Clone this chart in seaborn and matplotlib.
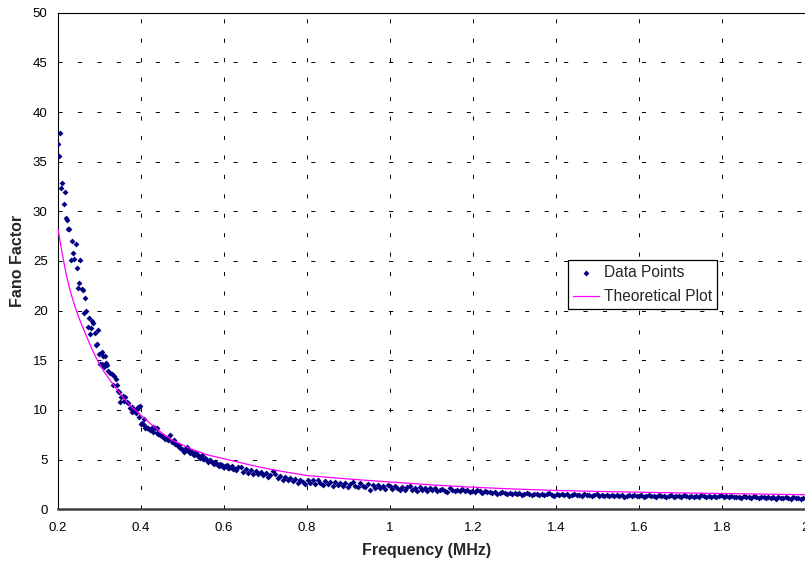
import numpy as np
import matplotlib
matplotlib.use('Agg')
import matplotlib.pyplot as plt
import seaborn as sns

sns.set_style('white')
plt.rcParams['font.family'] = ['Liberation Sans', 'DejaVu Sans']
plt.rcParams['lines.scale_dashes'] = False

# 测量数据 - 低频段 (点比较分散)
freq_low = [0.2000, 0.2017, 0.2048, 0.2072, 0.2104, 0.2137, 0.2161, 0.2186, 0.2217, 0.2248,
            0.2272, 0.2306, 0.2330, 0.2369, 0.2393, 0.2427, 0.2451, 0.2489, 0.2506, 0.2530,
            0.2571, 0.2595, 0.2627, 0.2651, 0.2682, 0.2716, 0.2740, 0.2771, 0.2788, 0.2820,
            0.2844, 0.2884, 0.2909, 0.2933, 0.2964, 0.2995, 0.3012, 0.3053, 0.3068, 0.3085,
            0.3110, 0.3140, 0.3150, 0.3188, 0.3210, 0.3250, 0.3294, 0.3318, 0.3357, 0.3400,
            0.3414, 0.3454, 0.3470, 0.3494, 0.3518, 0.3574, 0.3590, 0.3615, 0.3655, 0.3694,
            0.3735, 0.3776, 0.3790, 0.3815, 0.3856, 0.3870, 0.3897, 0.3935, 0.3950, 0.3976,
            0.4000, 0.4017, 0.4072, 0.4080, 0.4097, 0.4137, 0.4176, 0.4217, 0.4258, 0.4282,
            0.4297, 0.4338, 0.4378, 0.4393, 0.4420, 0.4458, 0.4500, 0.4538, 0.4580, 0.4620,
            0.4659, 0.4700, 0.4740, 0.4770, 0.4796, 0.4830, 0.4860, 0.4890, 0.4924, 0.4950,
            0.4981, 0.5010, 0.5037, 0.5070, 0.5100, 0.5130, 0.5164, 0.5190, 0.5222, 0.5250,
            0.5278, 0.5310, 0.5343, 0.5370, 0.5405, 0.5430, 0.5463, 0.5490, 0.5520, 0.5550,
            0.5584, 0.5610, 0.5646, 0.5670, 0.5704, 0.5730, 0.5760, 0.5790, 0.5825, 0.5850,
            0.5887, 0.5910, 0.5945, 0.5970, 0.6000, 0.6030, 0.6066, 0.6100, 0.6128, 0.6160,
            0.6186, 0.6220, 0.6266, 0.6300, 0.6345]
fano_low = [36.8, 35.6, 37.9, 32.4, 32.9, 30.7, 31.9, 29.3, 29.1, 28.2,
            28.2, 25.1, 27.0, 25.8, 25.2, 26.7, 24.3, 22.3, 22.8, 25.1,
            22.2, 22.1, 19.8, 21.3, 20.0, 18.4, 19.3, 17.7, 18.3, 19.0,
            18.8, 17.8, 16.5, 16.6, 18.1, 15.6, 14.6, 15.8, 14.6, 15.4,
            14.3, 15.4, 14.7, 14.5, 13.9, 13.7, 13.6, 12.5, 13.4, 13.1,
            12.5, 11.9, 11.8, 10.8, 11.3, 11.4, 10.9, 11.3, 10.8, 10.7,
            10.2, 10.3, 9.8, 10.1, 10.0, 9.7, 10.1, 10.3, 9.3, 10.4,
            8.6, 8.7, 8.5, 9.1, 8.2, 8.2, 8.2, 8.0, 8.2, 8.3,
            7.8, 8.2, 7.7, 8.2, 7.6, 7.5, 7.4, 7.3, 7.1, 7.2,
            7.0, 7.5, 6.8, 6.9, 7.0, 6.6, 6.6, 6.4, 6.5, 6.2,
            6.1, 6.0, 5.8, 6.1, 6.3, 5.9, 6.0, 5.7, 5.8, 5.6,
            5.5, 5.7, 5.6, 5.4, 5.3, 5.2, 5.5, 5.1, 5.1, 5.2,
            5.0, 4.8, 4.9, 5.0, 4.8, 4.7, 4.6, 4.8, 4.6, 4.5,
            4.4, 4.6, 4.5, 4.3, 4.3, 4.4, 4.5, 4.2, 4.2, 4.3,
            4.4, 4.1, 4.1, 4.0, 4.3]

# 测量数据 - 高频段 (点连成一条带)
freq_band = [0.640, 0.646, 0.652, 0.658, 0.664, 0.670, 0.676, 0.682, 0.688, 0.694,
             0.700, 0.706, 0.712, 0.718, 0.724, 0.730, 0.736, 0.742, 0.748, 0.754,
             0.760, 0.766, 0.772, 0.778, 0.784, 0.790, 0.796, 0.802, 0.808, 0.814,
             0.820, 0.826, 0.832, 0.838, 0.844, 0.850, 0.856, 0.862, 0.868, 0.874,
             0.880, 0.886, 0.892, 0.898, 0.904, 0.910, 0.916, 0.922, 0.928, 0.934,
             0.940, 0.946, 0.952, 0.958, 0.964, 0.970, 0.976, 0.982, 0.988, 0.994,
             1.000, 1.006, 1.012, 1.018, 1.024, 1.030, 1.036, 1.042, 1.048, 1.054,
             1.060, 1.066, 1.072, 1.078, 1.084, 1.090, 1.096, 1.102, 1.108, 1.114,
             1.120, 1.126, 1.132, 1.138, 1.144, 1.150, 1.156, 1.162, 1.168, 1.174,
             1.180, 1.186, 1.192, 1.198, 1.204, 1.210, 1.216, 1.222, 1.228, 1.234,
             1.240, 1.246, 1.252, 1.258, 1.264, 1.270, 1.276, 1.282, 1.288, 1.294,
             1.300, 1.306, 1.312, 1.318, 1.324, 1.330, 1.336, 1.342, 1.348, 1.354,
             1.360, 1.366, 1.372, 1.378, 1.384, 1.390, 1.396, 1.402, 1.408, 1.414,
             1.420, 1.426, 1.432, 1.438, 1.444, 1.450, 1.456, 1.462, 1.468, 1.474,
             1.480, 1.486, 1.492, 1.498, 1.504, 1.510, 1.516, 1.522, 1.528, 1.534,
             1.540, 1.546, 1.552, 1.558, 1.564, 1.570, 1.576, 1.582, 1.588, 1.594,
             1.600, 1.606, 1.612, 1.618, 1.624, 1.630, 1.636, 1.642, 1.648, 1.654,
             1.660, 1.666, 1.672, 1.678, 1.684, 1.690, 1.696, 1.702, 1.708, 1.714,
             1.720, 1.726, 1.732, 1.738, 1.744, 1.750, 1.756, 1.762, 1.768, 1.774,
             1.780, 1.786, 1.792, 1.798, 1.804, 1.810, 1.816, 1.822, 1.828, 1.834,
             1.840, 1.846, 1.852, 1.858, 1.864, 1.870, 1.876, 1.882, 1.888, 1.894,
             1.900, 1.906, 1.912, 1.918, 1.924, 1.930, 1.936, 1.942, 1.948, 1.954,
             1.960, 1.966, 1.972, 1.978, 1.984, 1.990, 1.996]
fano_band = [4.25, 3.80, 4.10, 3.70, 3.95, 3.60, 3.90, 3.55, 3.80, 3.45,
             3.70, 3.25, 3.50, 3.85, 3.60, 3.15, 3.40, 3.00, 3.30, 2.95,
             3.20, 2.80, 3.05, 2.65, 3.00, 2.75, 2.55, 2.95, 2.60, 2.90,
             2.55, 2.90, 2.65, 2.40, 2.80, 2.50, 2.70, 2.35, 2.75, 2.45,
             2.65, 2.35, 2.60, 2.25, 2.50, 2.75, 2.35, 2.20, 2.60, 2.30,
             2.25, 2.50, 1.95, 2.40, 2.15, 2.45, 2.10, 2.35, 2.05, 2.40,
             2.30, 2.00, 2.35, 2.10, 1.95, 2.25, 1.90, 2.20, 2.30, 1.95,
             2.15, 1.85, 2.20, 1.95, 2.15, 1.80, 2.10, 1.90, 2.15, 1.85,
             1.95, 2.05, 1.85, 1.70, 2.15, 1.90, 1.80, 1.95, 1.85, 2.00,
             1.80, 1.90, 1.75, 1.85, 1.70, 1.95, 1.80, 1.65, 1.80, 1.70,
             1.75, 1.60, 1.70, 1.55, 1.65, 1.75, 1.60, 1.50, 1.65, 1.55,
             1.60, 1.50, 1.65, 1.45, 1.55, 1.60, 1.50, 1.40, 1.55, 1.50,
             1.45, 1.55, 1.40, 1.50, 1.60, 1.45, 1.35, 1.50, 1.45, 1.55,
             1.40, 1.50, 1.35, 1.45, 1.55, 1.40, 1.45, 1.30, 1.50, 1.40,
             1.45, 1.35, 1.40, 1.50, 1.30, 1.45, 1.35, 1.40, 1.30, 1.45,
             1.35, 1.45, 1.30, 1.40, 1.25, 1.35, 1.45, 1.30, 1.40, 1.35,
             1.30, 1.40, 1.25, 1.35, 1.45, 1.30, 1.35, 1.20, 1.40, 1.30,
             1.35, 1.25, 1.30, 1.40, 1.20, 1.35, 1.30, 1.25, 1.40, 1.30,
             1.25, 1.35, 1.20, 1.30, 1.25, 1.40, 1.30, 1.20, 1.30, 1.25,
             1.30, 1.20, 1.35, 1.45, 1.25, 1.30, 1.20, 1.30, 1.25, 1.20,
             1.25, 1.15, 1.30, 1.20, 1.25, 1.10, 1.30, 1.20, 1.15, 1.25,
             1.20, 1.10, 1.25, 1.15, 1.20, 1.05, 1.20, 1.15, 1.10, 1.25,
             1.15, 1.05, 1.20, 1.10, 1.15, 1.05, 1.15]

# 理论曲线
theory_freq = [0.200, 0.210, 0.220, 0.230, 0.241, 0.253, 0.265, 0.280, 0.295, 0.310,
               0.329, 0.345, 0.362, 0.380, 0.394, 0.410, 0.426, 0.450, 0.478, 0.520,
               0.558, 0.614, 0.680, 0.735, 0.800, 0.900, 1.000, 1.100, 1.200, 1.300,
               1.400, 1.500, 1.600, 1.700, 1.800, 1.900, 2.000]
theory_fano = [28.2, 25.8, 23.6, 21.9, 20.4, 19.0, 17.8, 16.3, 15.0, 13.9,
               12.8, 11.9, 11.0, 10.2, 9.7, 9.1, 8.5, 7.7, 6.9, 6.1,
               5.5, 4.95, 4.3, 3.85, 3.4, 3.05, 2.75, 2.46, 2.22, 2.04,
               1.90, 1.80, 1.72, 1.65, 1.59, 1.53, 1.47]

x_ticks = [0.2, 0.4, 0.6, 0.8, 1.0, 1.2, 1.4, 1.6, 1.8, 2.0]
x_tick_labels = ['0.2', '0.4', '0.6', '0.8', '1', '1.2', '1.4', '1.6', '1.8', '2']
y_ticks = [0, 5, 10, 15, 20, 25, 30, 35, 40, 45, 50]

freq = np.array(freq_low + freq_band)
fano = np.array(fano_low + fano_band)

fig = plt.figure(figsize=(8.05, 5.62), dpi=100)
ax = fig.add_axes([58 / 805, 52.7 / 562, 747 / 805, 496.6 / 562])

sns.scatterplot(x=freq, y=fano, ax=ax, marker='D', s=9, color='#000080',
                linewidth=0, label='Data Points', zorder=3)
sns.lineplot(x=theory_freq, y=theory_fano, ax=ax, color='#FF00FF', linewidth=0.9,
             estimator=None, label='Theoretical Plot', zorder=4)

ax.set_xlim(0.2, 2.0)
ax.set_ylim(0, 50)
ax.set_xticks(x_ticks)
ax.set_xticklabels(x_tick_labels)
ax.set_yticks(y_ticks)
ax.tick_params(direction='inout', length=5, width=0.8, colors='black', labelsize=9.5)
ax.tick_params(axis='y', pad=5)
ax.tick_params(axis='x', pad=7)

ax.grid(True, color='black', linestyle=(0, (3, 11)), linewidth=0.7)
ax.set_axisbelow(True)

ax.spines['left'].set_color('black')
ax.spines['left'].set_linewidth(0.8)
ax.spines['top'].set_color('black')
ax.spines['top'].set_linewidth(0.8)
ax.spines['bottom'].set_color('#404040')
ax.spines['bottom'].set_linewidth(1.8)
ax.spines['right'].set_visible(False)

ax.set_xlabel('Frequency (MHz)', fontsize=11.5, fontweight='bold')
ax.set_ylabel('Fano Factor', fontsize=11.5, fontweight='bold')
ax.xaxis.set_label_coords((427 - 58) / 747, (509.3 - 551) / 496.6)
ax.xaxis.label.set_va('center')
ax.yaxis.set_label_coords((18 - 58) / 747, (509.3 - 260.5) / 496.6)
ax.yaxis.label.set_va('center')

leg = ax.legend(loc='upper left', bbox_to_anchor=(568 / 805, 1 - 260 / 562),
                bbox_transform=fig.transFigure, frameon=True, fancybox=False,
                edgecolor='black', framealpha=1, fontsize=11.2, handlelength=1.7,
                handletextpad=0.3, borderpad=0.3, labelspacing=0.6, borderaxespad=0,
                scatterpoints=1)
leg.get_frame().set_linewidth(0.9)

plt.savefig('out.png', dpi=100)
